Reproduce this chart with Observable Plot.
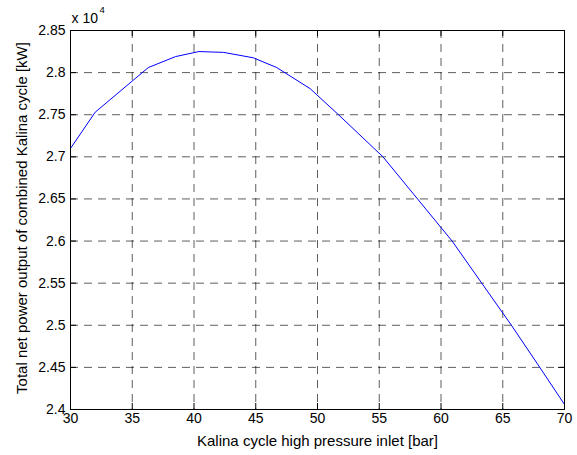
<!DOCTYPE html>
<html>
<head>
<meta charset="utf-8">
<script src="https://cdn.jsdelivr.net/npm/d3@7"></script>
<script src="https://cdn.jsdelivr.net/npm/@observablehq/plot@0.6"></script>
<style>
  html, body { margin: 0; padding: 0; background: #fff; }
  #chart svg { display: block; }
</style>
</head>
<body>
<div id="chart"></div>
<script>
// Kalina cycle high pressure inlet [bar]
const pressure = [30, 32, 36.3, 38.5, 40.4, 42.4, 44.8, 46.7, 49.4, 51.7, 55.3, 58.1, 60.9, 63.3, 65.7, 68.0, 70];
// Total net power output [kW]
const power = [27100, 27530, 28060, 28190, 28250, 28240, 28176, 28060, 27810, 27500, 27000, 26500, 26000, 25500, 25000, 24500, 24060];

const xTicks = [30, 35, 40, 45, 50, 55, 60, 65, 70];
const yTicks = [24000, 24500, 25000, 25500, 26000, 26500, 27000, 27500, 28000, 28500];

const xLabel = "Kalina cycle high pressure inlet [bar]";
const yLabel = "Total net power output of combined Kalina cycle [kW]";
const exponentBase = "x 10";
const exponent = "4";

const data = pressure.map((p, i) => ({p, w: power[i]}));
const xMin = 30, xMax = 70, yMin = 24000, yMax = 28500;
const font = "Liberation Sans, Arial, Helvetica, sans-serif";
const grid = {stroke: "#000", strokeOpacity: 0.8, strokeWidth: 0.8, strokeDasharray: "8,6"};

const chart = Plot.plot({
  width: 577,
  height: 455,
  marginLeft: 70,
  marginRight: 13,
  marginTop: 30,
  marginBottom: 46,
  style: {fontFamily: font, fontSize: "14px", color: "#000", background: "#fff"},
  x: {domain: [xMin, xMax]},
  y: {domain: [yMin, yMax]},
  marks: [
    // grid
    Plot.ruleX(xTicks.slice(1, -1), {x: d => d, ...grid}),
    Plot.ruleY(yTicks.slice(1, -1), {y: d => d, ...grid}),
    // inward ticks bottom/top
    Plot.ruleX(xTicks, {x: d => d, y1: yMin, y2: yMin, insetTop: -6, stroke: "#000"}),
    Plot.ruleX(xTicks, {x: d => d, y1: yMax, y2: yMax, insetBottom: -6, stroke: "#000"}),
    // inward ticks left/right
    Plot.ruleY(yTicks, {y: d => d, x1: xMin, x2: xMin, insetRight: -6, stroke: "#000"}),
    Plot.ruleY(yTicks, {y: d => d, x1: xMax, x2: xMax, insetLeft: -6, stroke: "#000"}),
    // data
    Plot.line(data, {x: "p", y: "w", stroke: "#0000ff", strokeWidth: 1}),
    Plot.frame({stroke: "#000", strokeWidth: 1}),
    Plot.axisX(xTicks, {tickSize: 0, tickPadding: 4, label: null, fontSize: 14}),
    Plot.axisY(yTicks, {tickSize: 0, tickPadding: 5, label: null, fontSize: 14,
      tickFormat: d => d3.format("")(+(d / 1e4).toFixed(2))}),
    Plot.text([xLabel], {frameAnchor: "bottom", dy: 36, lineAnchor: "bottom", textAnchor: "middle", fontSize: 15, fill: "#000"}),
    Plot.text([yLabel], {frameAnchor: "left", dx: -44, dy: -2, rotate: -90, lineAnchor: "bottom", textAnchor: "middle", fontSize: 15, fill: "#000"}),
    Plot.text([exponentBase], {frameAnchor: "top-left", dx: 1, dy: -8, textAnchor: "start", lineAnchor: "bottom", fontSize: 14, fill: "#000"}),
    Plot.text([exponent], {frameAnchor: "top-left", dx: 29, dy: -18, textAnchor: "start", lineAnchor: "bottom", fontSize: 9.5, fill: "#000"})
  ]
});
document.getElementById("chart").appendChild(chart);
</script>
</body>
</html>
